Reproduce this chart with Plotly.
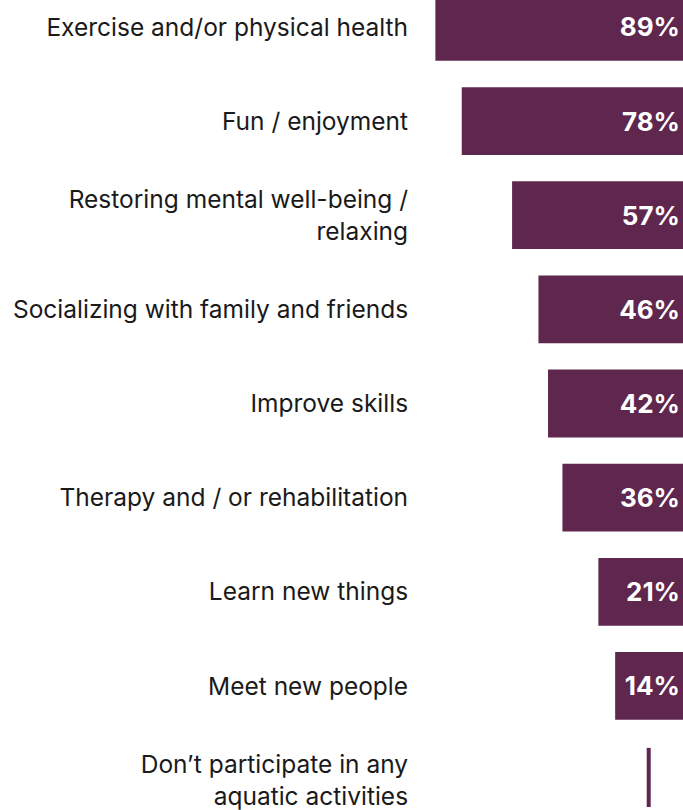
import plotly.graph_objects as go

categories = [
    "Exercise and/or physical health",
    "Fun / enjoyment",
    "Restoring mental well-being /<br>relaxing",
    "Socializing with family and friends",
    "Improve skills",
    "Therapy and / or rehabilitation",
    "Learn new things",
    "Meet new people",
    "Don\u2019t participate in any<br>aquatic activities",
]
values = [89, 78, 57, 46, 42, 36, 21, 14, 0]
value_labels = ["89%", "78%", "57%", "46%", "42%", "36%", "21%", "14%", ""]

PURPLE = "#5f264e"
PAD = 14.3  # bars run a little past zero so the label fits

nonzero = [(c, v, t) for c, v, t in zip(categories, values, value_labels) if v > 0]
zero = [c for c, v in zip(categories, values) if v == 0]

fig = go.Figure()
fig.add_trace(go.Bar(
    y=[c for c, _, _ in nonzero],
    x=[v + PAD for _, v, _ in nonzero],
    base=-PAD,
    orientation="h",
    marker=dict(color=PURPLE, line=dict(width=0)),
    text=[t for _, _, t in nonzero],
    textposition="inside",
    insidetextanchor="start",
    textangle=0,
    textfont=dict(family="Inter", size=26, color="white", weight="bold"),
    hoverinfo="skip",
))
# zero-value rows are drawn as a thin rule at zero
fig.add_trace(go.Scatter(
    y=zero,
    x=[0] * len(zero),
    mode="markers",
    marker=dict(symbol="line-ns", size=46, line=dict(width=4, color=PURPLE)),
    hoverinfo="skip",
))

fig.update_layout(
    width=683,
    height=810,
    margin=dict(l=418, r=0, t=0, b=0),
    plot_bgcolor="white",
    paper_bgcolor="white",
    showlegend=False,
    bargap=0.28,
    font=dict(family="Inter", size=24.5, color="#1a1a1a"),
)
fig.update_xaxes(range=[96.25, -PAD], visible=False)
fig.update_yaxes(
    type="category",
    categoryorder="array",
    categoryarray=categories,
    range=[8.286, -0.286],
    showgrid=False,
    zeroline=False,
    showline=False,
    ticks="outside",
    ticklen=4,
    tickcolor="white",
    tickfont=dict(family="Inter", size=24.5, color="#1a1a1a"),
)

fig.write_html(
    "out.html",
    config={"displayModeBar": False},
    post_script="document.body.style.margin='0';",
)
